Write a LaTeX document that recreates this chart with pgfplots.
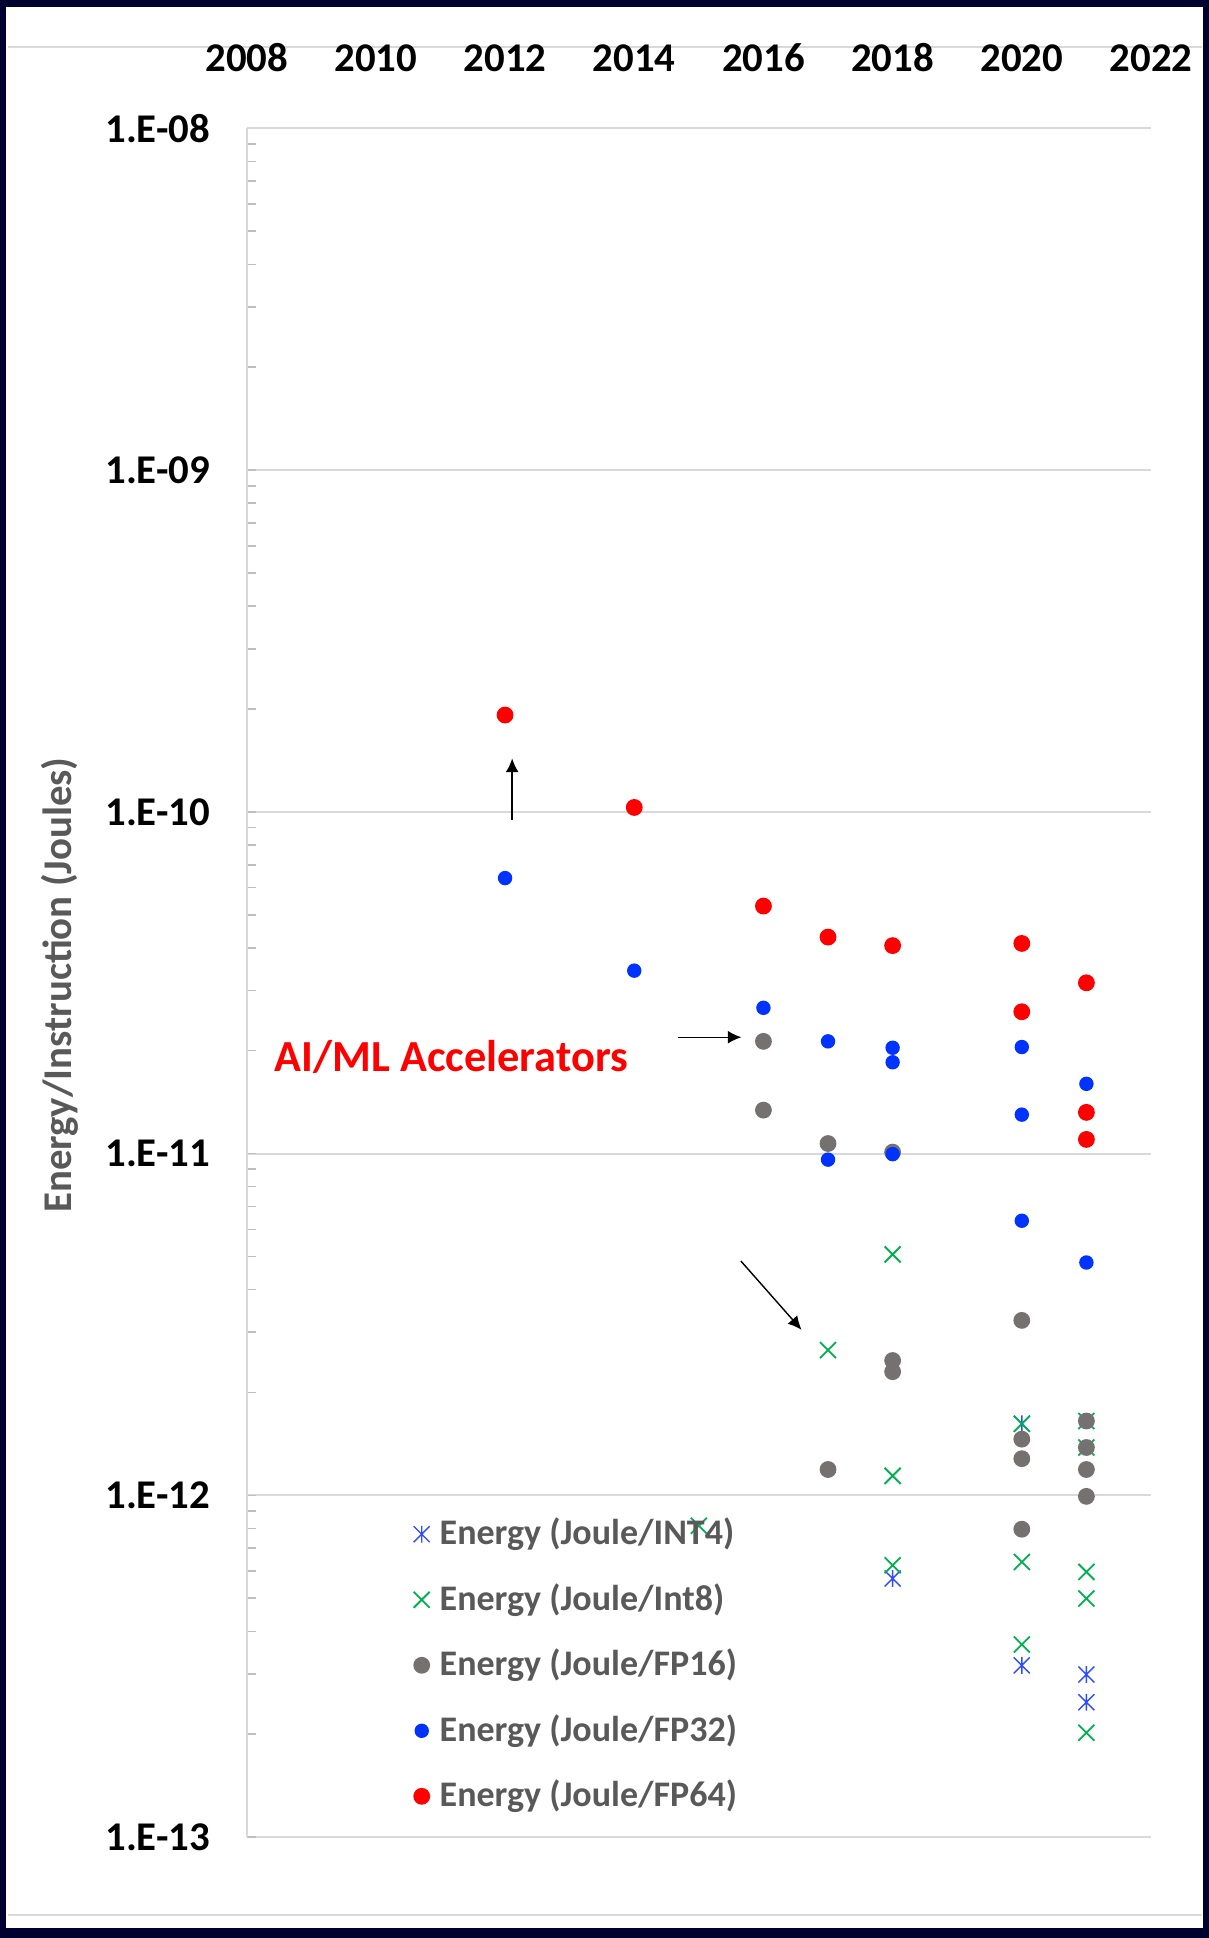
\documentclass[border=0pt]{standalone}
\usepackage{fontspec}
\setmainfont{Carlito}
\usepackage{pgfplots}
\pgfplotsset{compat=1.18}
\usepackage{pgfplotstable}
\usetikzlibrary{arrows.meta}

\definecolor{navy}{HTML}{000030}
\definecolor{gridgray}{HTML}{D9D9D9}
\definecolor{tickgray}{HTML}{BFBFBF}
\definecolor{textgray}{HTML}{595959}
\definecolor{cred}{HTML}{FF0000}
\definecolor{cblue}{HTML}{0033FF}
\definecolor{cgray}{HTML}{767171}
\definecolor{cgreen}{HTML}{00B050}
\definecolor{cstar}{HTML}{2E4BFF}

\pgfdeclareplotmark{xstar}{%
  \pgfpathmoveto{\pgfqpoint{-\pgfplotmarksize}{-\pgfplotmarksize}}%
  \pgfpathlineto{\pgfqpoint{\pgfplotmarksize}{\pgfplotmarksize}}%
  \pgfpathmoveto{\pgfqpoint{-\pgfplotmarksize}{\pgfplotmarksize}}%
  \pgfpathlineto{\pgfqpoint{\pgfplotmarksize}{-\pgfplotmarksize}}%
  \pgfpathmoveto{\pgfqpoint{0pt}{-1.05\pgfplotmarksize}}%
  \pgfpathlineto{\pgfqpoint{0pt}{1.05\pgfplotmarksize}}%
  \pgfusepathqstroke}

\pgfplotstableread{
year val
2018 5.71e-13
2020 1.62e-12
2020 3.18e-13
2021 2.99e-13
2021 2.48e-13
}\intfour

\pgfplotstableread{
year val
2015 8.15e-13
2017 2.66e-12
2018 5.07e-12
2018 1.14e-12
2018 6.24e-13
2020 1.62e-12
2020 6.38e-13
2020 3.66e-13
2021 1.65e-12
2021 1.38e-12
2021 5.97e-13
2021 4.99e-13
2021 2.02e-13
}\inteight

\pgfplotstableread{
year val
2016 2.13e-11
2016 1.34e-11
2017 1.07e-11
2017 1.19e-12
2018 1.01e-11
2018 2.48e-12
2018 2.30e-12
2020 3.25e-12
2020 1.46e-12
2020 1.28e-12
2020 7.96e-13
2021 1.65e-12
2021 1.38e-12
2021 1.19e-12
2021 9.93e-13
}\fpsixteen

\pgfplotstableread{
year val
2012 6.40e-11
2014 3.43e-11
2016 2.67e-11
2017 2.13e-11
2017 9.60e-12
2018 2.04e-11
2018 1.85e-11
2018 9.96e-12
2020 2.05e-11
2020 1.30e-11
2020 6.36e-12
2021 1.60e-11
2021 4.80e-12
}\fpthirtytwo

\pgfplotstableread{
year val
2012 1.92e-10
2014 1.03e-10
2016 5.30e-11
2017 4.30e-11
2018 4.06e-11
2020 4.12e-11
2020 2.60e-11
2021 3.16e-11
2021 1.32e-11
2021 1.10e-11
}\fpsixtyfour

\pgfplotsset{
  legmark/.style={legend image code/.code={%
    \path[draw=none,fill=none] (-2.5pt,-2.5pt) rectangle (2.5pt,2.5pt);
    \draw[##1] plot coordinates {(0pt,0pt)};}},
}

\begin{document}
\begin{tikzpicture}
% frame
\fill[navy] (0pt,0pt) rectangle (302.25pt,484.5pt);
\fill[white] (1.5pt,2.5pt) rectangle (300.75pt,482.75pt);
\draw[gridgray, line width=0.5pt] (2pt,472.8pt) -- (300.5pt,472.8pt);
\draw[gridgray, line width=0.5pt] (2pt,5.75pt) -- (300.5pt,5.75pt);

\begin{axis}[
  at={(61.675pt,25.25pt)}, anchor=south west,
  scale only axis, width=226.075pt, height=427.175pt,
  xmin=2008, xmax=2022, ymode=log, ymin=1e-13, ymax=1e-8,
  axis x line*=top, axis y line*=left,
  x axis line style={draw=none},
  y axis line style={draw=gridgray, line width=0.5pt},
  xtick={2008,2010,2012,2014,2016,2018,2020,2022},
  xticklabels={2008,2010,2012,2014,2016,2018,2020,2022},
  xtick style={draw=none},
  xticklabel style={font=\fontsize{10.2}{12}\selectfont\bfseries, anchor=base, inner sep=0pt, yshift=14.2pt},
  ytick={1e-13,1e-12,1e-11,1e-10,1e-9,1e-8},
  yticklabels={1.E-13,1.E-12,1.E-11,1.E-10,1.E-09,1.E-08},
  yticklabel style={font=\fontsize{10.2}{12}\selectfont\bfseries, anchor=east, inner sep=0pt, xshift=-9pt},
  ymajorgrids, major grid style={gridgray, line width=0.5pt},
  tick align=inside, major tick length=0pt, minor tick length=2.3pt,
  ytick style={tickgray, line width=0.4pt},
  minor y tick num=8,
  ylabel={Energy/Instruction (Joules)},
  ylabel style={font=\fontsize{10.2}{12}\selectfont\bfseries, text=textgray,
    at={(axis description cs:-0.2065,0.4986)}, anchor=center},
  clip=false,
  legend style={at={(0.1825,0.1868)}, anchor=north west, draw=none, fill=none,
    inner sep=0pt, outer sep=0pt, row sep=8.2pt, column sep=2.0pt,
    font=\fontsize{9.0}{10}\selectfont\bfseries, text=textgray,
    nodes={inner sep=0pt}},
  legend cell align=left,
]
\addplot[only marks, mark=xstar, mark size=2pt, color=cstar, line width=0.35pt, legmark] table[x=year,y=val]{\intfour};
\addlegendentry{Energy (Joule/INT4)}
\addplot[only marks, mark=x, mark size=2.83pt, color=cgreen, line width=0.45pt, legmark] table[x=year,y=val]{\inteight};
\addlegendentry{Energy (Joule/Int8)}
\addplot[only marks, mark=*, mark size=1.9pt, color=cgray, mark options={draw=cgray, fill=cgray}, legmark] table[x=year,y=val]{\fpsixteen};
\addlegendentry{Energy (Joule/FP16)}
\addplot[only marks, mark=*, mark size=1.6pt, color=cblue, mark options={draw=cblue, fill=cblue}, legmark] table[x=year,y=val]{\fpthirtytwo};
\addlegendentry{Energy (Joule/FP32)}
\addplot[only marks, mark=*, mark size=1.9pt, color=cred, mark options={draw=cred, fill=cred}, legmark] table[x=year,y=val]{\fpsixtyfour};
\addlegendentry{Energy (Joule/FP64)}

% annotations
\draw[-{Latex[length=3.4pt,width=3.2pt]}, line width=0.35pt] (axis cs:2012.11,9.46e-11) -- (axis cs:2012.11,1.433e-10);
\draw[-{Latex[length=3.4pt,width=3.2pt]}, line width=0.35pt] (axis cs:2014.68,2.19e-11) -- (axis cs:2015.66,2.19e-11);
\draw[-{Latex[length=3.4pt,width=3.2pt]}, line width=0.35pt] (axis cs:2015.65,4.85e-12) -- (axis cs:2016.59,3.05e-12);
\node[anchor=base, text=cred, font=\fontsize{11.1}{13}\selectfont\bfseries, inner sep=0pt] at (axis cs:2011.17,1.742e-11) {AI/ML Accelerators};
\end{axis}
\pgfresetboundingbox
\path (0pt,0pt) rectangle (302.25pt,484.5pt);
\end{tikzpicture}
\end{document}
